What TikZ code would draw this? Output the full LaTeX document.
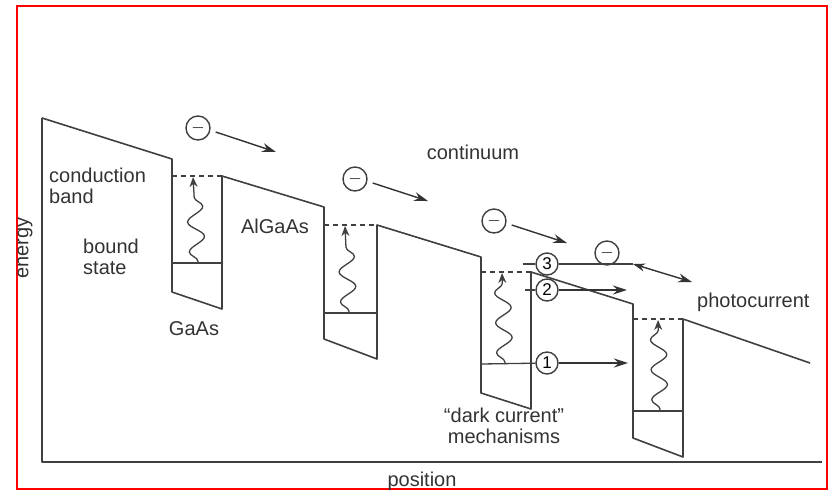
\documentclass[tikz,border=0pt]{standalone}
\usepackage{fontspec}
\setmainfont{Liberation Sans}
\usetikzlibrary{positioning, arrows.meta, decorations.pathmorphing}

\begin{document}
\begin{tikzpicture}[x=1pt, y=-1pt,
    band/.style={line width=1.6pt, draw=black!75, line join=round},
    level/.style={line width=1.3pt, draw=black!75},
    excite/.style={line width=1.3pt, draw=black!75, -{Stealth[length=10pt,width=8pt]},
        decorate, decoration={snake, amplitude=8pt, segment length=30pt, pre length=2pt, post length=9pt}},
    electron/.style={circle, draw=black!75, line width=1.4pt, minimum width=24pt, minimum height=21pt, inner sep=0pt, font=\fontsize{16}{16}\selectfont},
    mech/.style={circle, draw=black!75, line width=1.4pt, minimum size=22pt, inner sep=0pt, font=\fontsize{17}{17}\selectfont},
    flow/.style={line width=1.4pt, draw=black!80, -{Stealth[length=14pt,width=9pt]}},
    lbl/.style={font=\fontsize{20}{21}\selectfont, text=black!80, inner sep=0pt}
]
\useasboundingbox (0,0) rectangle (832,491);
\fill[white] (0,0) rectangle (832,491);
\draw[red, line width=1.2pt] (17,6) rectangle (827,489);

% axes
\draw[band] (42,118) -- (42,462) -- (822,462);

% conduction band profile
\draw[band] (42,118) -- (172,159) -- (172,292) -- (222,309) -- (222,176)
    -- (324,207) -- (324,339) -- (377,359) -- (377,225)
    -- (481,257) -- (481,393) -- (531,409) -- (531,272)
    -- (633,304) -- (633,438) -- (683,457) -- (683,319) -- (810,363);

% top of each well
\draw[level, dashed, dash pattern=on 5pt off 4pt] (172,176) -- (222,176);
\draw[level, dashed, dash pattern=on 5pt off 4pt] (324,225) -- (377,225);
\draw[level, dashed, dash pattern=on 5pt off 4pt] (481,272) -- (531,272);
\draw[level, dashed, dash pattern=on 5pt off 4pt] (633,319) -- (683,319);

% bound states
\draw[level] (172,263) -- (222,263);
\draw[level] (324,313) -- (377,313);
\draw[level] (633,411) -- (683,411);
\coordinate (b3) at (481,364);

% photo excitation
\draw[excite] (198,263) -- (193,177);
\draw[excite] (349,313) -- (345,226);
\draw[excite] (505,364) -- (502,273);
\draw[excite] (660,411) -- (658,320);

% electrons
\node[electron] (e1) at (198,128) {$-$};
\node[electron] (e2) at (355,179) {$-$};
\node[electron] (e3) at (494,221) {$-$};
\node[electron] (e4) at (607,253) {$-$};
\coordinate (t1) at (276,152);
\coordinate (t2) at (428,201);
\coordinate (t3) at (567,243);
\draw[flow] ([shift={(5pt,-4pt)}]e1.east) -- (t1);
\draw[flow] ([shift={(5pt,-4pt)}]e2.east) -- (t2);
\draw[flow] ([shift={(5pt,-4pt)}]e3.east) -- (t3);

% dark current mechanisms
\node[mech] (m3) at (547,264) {3};
\node[mech] (m2) at (547,290) {2};
\node[mech] (m1) at (547,363) {1};
\coordinate (s3) at (523,264);
\coordinate (s2) at (525,290);
\coordinate (k3) at (633,264);
\coordinate (p3) at (692,282);
\coordinate (p2) at (627,290);
\coordinate (p1) at (628,363);
\draw[level] (s3) -- (m3);
\draw[level] (m3) -- (k3);
\draw[flow, {Stealth[length=12pt,width=8pt]}-{Stealth[length=14pt,width=9pt]}] (k3) -- (p3);
\draw[level] (s2) -- (m2);
\draw[flow] (m2) -- (p2);
\draw[level] (b3) -- (m1);
\draw[flow] (m1) -- (p1);

% labels
\node[lbl, anchor=west, align=left] (cb) at (49,186) {conduction\\band};
\node[lbl, anchor=west, align=left] (bs) at (83,257) {bound\\state};
\node[lbl] (gaas) at (194,329) {GaAs};
\node[lbl] (algaas) at (275,226) {AlGaAs};
\node[lbl] (cont) at (473,152) {continuum};
\node[lbl, anchor=west] (pc) at (697,302) {photocurrent};
\node[lbl, align=center] (dc) at (504,426) {``dark current''\\mechanisms};
\node[lbl] (pos) at (422,481) {position};
\node[lbl, rotate=90] (en) at (25,248) {energy};
\end{tikzpicture}
\end{document}
